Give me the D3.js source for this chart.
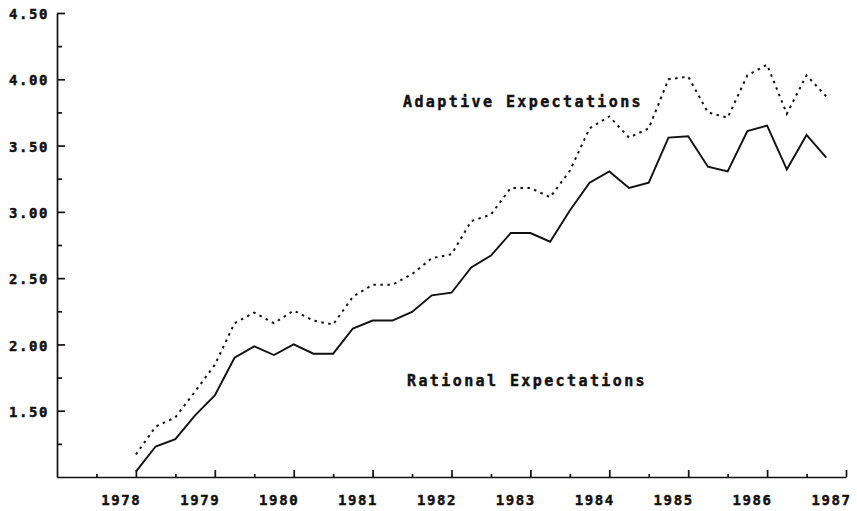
<!DOCTYPE html>
<html>
<head>
<meta charset="utf-8">
<script src="https://cdn.jsdelivr.net/npm/d3@7"></script>
<style>
  html, body { margin: 0; padding: 0; background: #fff; }
  svg { display: block; }
  text { font-family: "DejaVu Sans Mono", "Liberation Mono", monospace; font-weight: bold; fill: #111; stroke: #111; stroke-width: 0.45px; }
</style>
</head>
<body>
<svg id="chart" width="857" height="511"></svg>
<script>
// ---- data ----
const quarters = [
  1978.00, 1978.25, 1978.50, 1978.75,
  1979.00, 1979.25, 1979.50, 1979.75,
  1980.00, 1980.25, 1980.50, 1980.75,
  1981.00, 1981.25, 1981.50, 1981.75,
  1982.00, 1982.25, 1982.50, 1982.75,
  1983.00, 1983.25, 1983.50, 1983.75,
  1984.00, 1984.25, 1984.50, 1984.75,
  1985.00, 1985.25, 1985.50, 1985.75,
  1986.00, 1986.25, 1986.50, 1986.75
];
const rational = [
  1.04, 1.23, 1.285, 1.465,
  1.615, 1.90, 1.985, 1.92,
  2.00, 1.93, 1.93, 2.12,
  2.18, 2.18, 2.245, 2.37,
  2.39, 2.58, 2.67, 2.84,
  2.84, 2.775, 3.01, 3.22,
  3.305, 3.18, 3.22, 3.56,
  3.57, 3.34, 3.305, 3.61,
  3.65, 3.32, 3.58, 3.41
];
const adaptive = [
  1.17, 1.38, 1.45, 1.645,
  1.846, 2.16, 2.24, 2.16,
  2.255, 2.18, 2.15, 2.36,
  2.45, 2.45, 2.53, 2.65,
  2.68, 2.93, 2.98, 3.18,
  3.18, 3.11, 3.31, 3.63,
  3.72, 3.56, 3.63, 4.00,
  4.02, 3.75, 3.71, 4.03,
  4.11, 3.74, 4.03, 3.87
];
const yMajorTicks = [1.5, 2.0, 2.5, 3.0, 3.5, 4.0, 4.5];
const yTickLabels = ["1.50", "2.00", "2.50", "3.00", "3.50", "4.00", "4.50"];
const yMinorTicks = [1.25, 1.75, 2.25, 2.75, 3.25, 3.75, 4.25];
const xMajorTicks = [1978, 1979, 1980, 1981, 1982, 1983, 1984, 1985, 1986, 1987];
const xTickLabels = ["1978", "1979", "1980", "1981", "1982", "1983", "1984", "1985", "1986", "1987"];
const xMinorTicks = [1977.5, 1978.5, 1979.5, 1980.5, 1981.5, 1982.5, 1983.5, 1984.5, 1985.5, 1986.5];
const seriesNames = ["Adaptive Expectations", "Rational Expectations"];

// ---- layout ----
const svg = d3.select("#chart");
const x = d3.scaleLinear().domain([1977, 1987]).range([57, 846]);
const y = d3.scaleLinear().domain([1.0, 4.5]).range([477, 13]);

// y axis (ticks pointing inward)
const yAxis = svg.append("g").attr("transform", `translate(${x(1977)},0)`)
  .call(d3.axisLeft(y).tickValues(yMajorTicks)
    .tickFormat((d, i) => yTickLabels[i])
    .tickSizeInner(-8).tickSizeOuter(0).tickPadding(8));
yAxis.select(".domain").attr("stroke", "#111").attr("stroke-width", 1.7);
yAxis.selectAll(".tick line").attr("stroke", "#111").attr("stroke-width", 1.7);
yAxis.selectAll(".tick text")
  .attr("font-size", 14).attr("letter-spacing", "1.6px")
  .attr("dy", "0.4em").style("fill", "#111");

svg.append("g").attr("transform", `translate(${x(1977)},0)`)
  .call(d3.axisLeft(y).tickValues(yMinorTicks).tickFormat("")
    .tickSizeInner(-5).tickSizeOuter(0))
  .call(g => g.select(".domain").remove())
  .selectAll(".tick line").attr("stroke", "#111").attr("stroke-width", 1.7);

// x axis (ticks pointing up, labels ending at the tick)
const xAxis = svg.append("g").attr("transform", `translate(0,${y(1.0)})`)
  .call(d3.axisBottom(x).tickValues(xMajorTicks)
    .tickFormat((d, i) => xTickLabels[i])
    .tickSizeInner(-7).tickSizeOuter(0));
xAxis.select(".domain").attr("stroke", "#111").attr("stroke-width", 1.7);
xAxis.selectAll(".tick line").attr("stroke", "#111").attr("stroke-width", 1.7);
xAxis.selectAll(".tick text")
  .attr("font-size", 14).attr("letter-spacing", "1.6px")
  .attr("text-anchor", "end").attr("x", 5).attr("y", 28).attr("dy", null)
  .style("fill", "#111");

svg.append("g").attr("transform", `translate(0,${y(1.0)})`)
  .call(d3.axisBottom(x).tickValues(xMinorTicks).tickFormat("")
    .tickSizeInner(-3).tickSizeOuter(0))
  .call(g => g.select(".domain").remove())
  .selectAll(".tick line").attr("stroke", "#111").attr("stroke-width", 1.7);

// lines
const line = d3.line().x((d, i) => x(quarters[i])).y(d => y(d)).curve(d3.curveLinear);

svg.append("path").datum(adaptive)
  .attr("d", line).attr("fill", "none").attr("stroke", "#111")
  .attr("stroke-width", 2).attr("stroke-dasharray", "2.5,4.5");

svg.append("path").datum(rational)
  .attr("d", line).attr("fill", "none").attr("stroke", "#111")
  .attr("stroke-width", 1.9);

// series labels
svg.append("text").attr("x", 403).attr("y", 107)
  .attr("font-size", 15).attr("letter-spacing", "2.4px").text(seriesNames[0]);
svg.append("text").attr("x", 407).attr("y", 386)
  .attr("font-size", 15).attr("letter-spacing", "2.4px").text(seriesNames[1]);
</script>
</body>
</html>
